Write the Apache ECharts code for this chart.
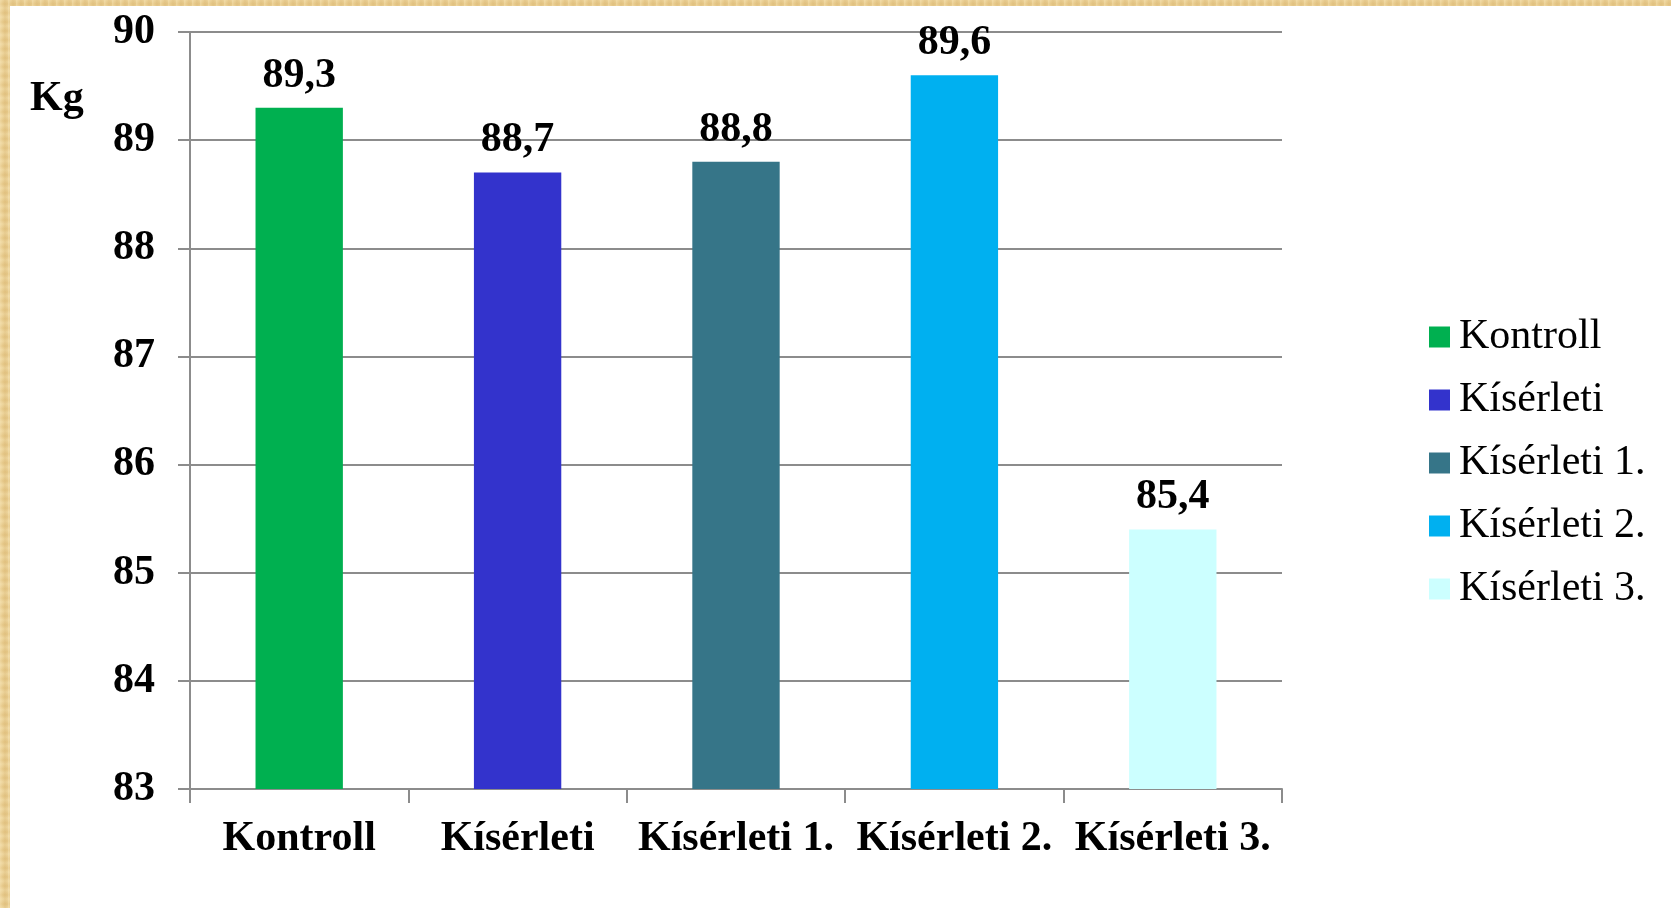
<!DOCTYPE html>
<html>
<head>
<meta charset="utf-8">
<script src="https://cdn.jsdelivr.net/npm/echarts@6/dist/echarts.min.js"></script>
<style>
  html, body { margin: 0; padding: 0; width: 1671px; height: 908px; overflow: hidden; }
  body {
    background-color: #E8CB8C;
    background-image:
      repeating-linear-gradient(90deg, rgba(255,240,200,0.35) 0px, rgba(255,240,200,0) 3px, rgba(200,160,90,0.18) 5px, rgba(255,240,200,0) 8px),
      repeating-linear-gradient(0deg, rgba(255,245,210,0.25) 0px, rgba(210,170,100,0.15) 4px, rgba(255,245,210,0.25) 9px);
  }
  #paper { position: absolute; left: 10px; top: 6px; right: 0; bottom: 0; background: #ffffff; }
  #chart { position: absolute; left: 0; top: 0; width: 1671px; height: 908px; }
</style>
</head>
<body>
<div id="paper"></div>
<div id="chart"></div>
<script>
const categories = ['Kontroll', 'Kísérleti', 'Kísérleti 1.', 'Kísérleti 2.', 'Kísérleti 3.'];
const values = [89.3, 88.7, 88.8, 89.6, 85.4];
const colors = ['#00B050', '#3333CC', '#367588', '#00B0F0', '#CCFFFF'];
const yTicks = { min: 83, max: 90, interval: 1 };
const unitLabel = 'Kg';

const FONT = '"Liberation Serif", "Times New Roman", serif';

const series = categories.map((name, i) => ({
  name: name,
  type: 'bar',
  stack: 'all',
  barWidth: '40%',
  itemStyle: { color: colors[i] },
  data: categories.map((c, j) => (j === i ? values[i] : '-')),
  label: {
    show: true,
    position: 'top',
    distance: 11,
    fontFamily: FONT,
    fontWeight: 'bold',
    fontSize: 42,
    color: '#000',
    formatter: p => String(p.value).replace('.', ',')
  }
}));

const chart = echarts.init(document.getElementById('chart'), null, { renderer: 'canvas' });
chart.setOption({
  backgroundColor: 'transparent',
  animation: false,
  grid: { left: 190, right: 389, top: 32, bottom: 119, containLabel: false },
  legend: {
    orient: 'vertical',
    left: 1424,
    top: 311,
    itemWidth: 21,
    itemHeight: 21,
    itemGap: 21,
    icon: 'rect',
    data: categories,
    textStyle: { fontFamily: FONT, fontSize: 42, lineHeight: 42, color: '#000', padding: [0, 0, 0, 4] }
  },
  xAxis: {
    type: 'category',
    data: categories,
    axisLine: { show: true, lineStyle: { color: '#8C8C8C', width: 2 } },
    axisTick: { show: true, length: 14, alignWithLabel: false, lineStyle: { color: '#8C8C8C', width: 2 } },
    axisLabel: { margin: 29, fontFamily: FONT, fontWeight: 'bold', fontSize: 42, color: '#000', interval: 0 }
  },
  yAxis: {
    type: 'value',
    min: yTicks.min,
    max: yTicks.max,
    interval: yTicks.interval,
    axisLine: { show: true, lineStyle: { color: '#8C8C8C', width: 2 } },
    axisTick: { show: true, length: 12, lineStyle: { color: '#8C8C8C', width: 2 } },
    splitLine: { show: true, lineStyle: { color: '#8C8C8C', width: 2 } },
    axisLabel: { margin: 35, padding: [4, 0, 0, 0], fontFamily: FONT, fontWeight: 'bold', fontSize: 42, color: '#000' }
  },
  graphic: [{
    type: 'text',
    left: 30,
    top: 78,
    style: { text: unitLabel, fontFamily: FONT, fontWeight: 'bold', fontSize: 42, fill: '#000' }
  }],
  series: series
});
</script>
</body>
</html>
